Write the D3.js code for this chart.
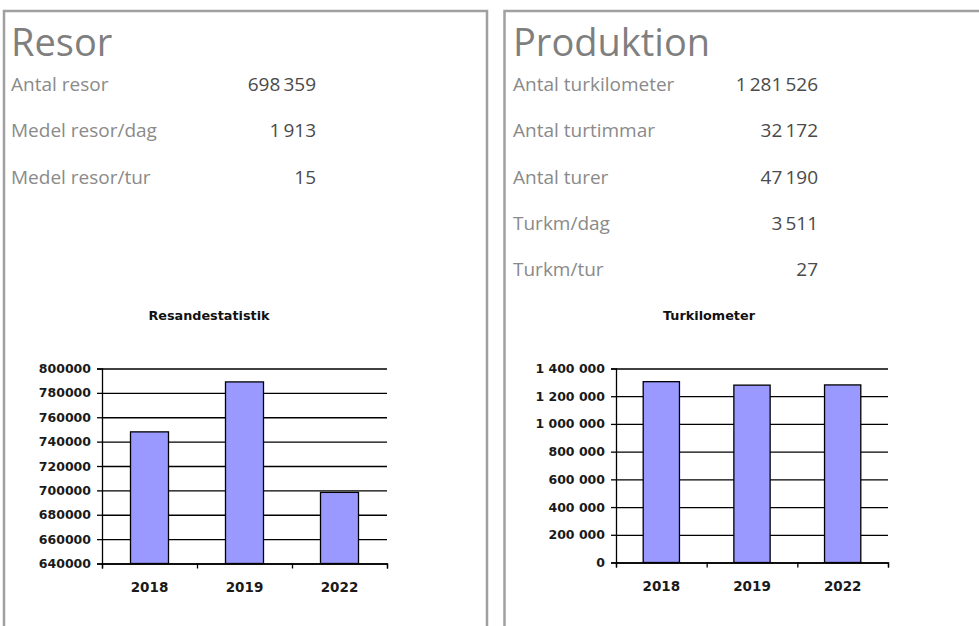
<!DOCTYPE html>
<html>
<head>
<meta charset="utf-8">
<script src="https://cdn.jsdelivr.net/npm/d3@7"></script>
<style>
  body { margin: 0; background: #fff; }
  .panel { fill: none; stroke: #a0a0a0; stroke-width: 2.5; }
  .head { font-family: "Open Sans", sans-serif; font-size: 38px; fill: #7f7f7f; }
  .rowLabel { font-family: "Open Sans", sans-serif; font-size: 19px; fill: #8a8a8a; }
  .rowValue { font-family: "Open Sans", sans-serif; font-size: 19px; fill: #4a4a4a; text-anchor: end; }
  .chartTitle { font-family: "DejaVu Sans", sans-serif; font-size: 12.8px; font-weight: bold; fill: #111; text-anchor: middle; }
  .axis text { font-family: "DejaVu Sans", sans-serif; font-size: 12.5px; font-weight: bold; fill: #1a1a1a; }
  .axis.years text { font-size: 13.5px; }
  .axis path, .axis line { stroke: #000; stroke-width: 1.3; }
  .grid line { stroke: #000; stroke-width: 1.3; }
  .grid path { display: none; }
  .bar { fill: #9999ff; stroke: #000; stroke-width: 1.3; }
</style>
</head>
<body>
<div id="chart"></div>
<script>
// key figures
var resorLabels = ["Antal resor", "Medel resor/dag", "Medel resor/tur"];
var resorValues = [698359, 1913, 15];
var prodLabels = ["Antal turkilometer", "Antal turtimmar", "Antal turer", "Turkm/dag", "Turkm/tur"];
var prodValues = [1281526, 32172, 47190, 3511, 27];

// charts
var years = ["2018", "2019", "2022"];
var resandeValues = [748000, 789000, 698359];
var resandeTicks = [640000, 660000, 680000, 700000, 720000, 740000, 760000, 780000, 800000];
var turkmValues = [1305000, 1280000, 1281526];
var turkmTicks = [0, 200000, 400000, 600000, 800000, 1000000, 1200000, 1400000];

var W = 979, H = 626;
var fmtSpace = d3.formatLocale({decimal: ",", thousands: "\u2009", grouping: [3], currency: ["", " kr"]}).format(",d");
var fmtAxis = d3.formatLocale({decimal: ",", thousands: " ", grouping: [3], currency: ["", ""]}).format(",d");

var svg = d3.select("#chart").append("svg")
    .attr("width", W)
    .attr("height", H);

// panel frames
svg.append("path").attr("class", "panel")
    .attr("d", "M4,632 L4,11 L487,11 L487,632");
svg.append("path").attr("class", "panel")
    .attr("d", "M504.5,632 L504.5,11 L990,11");

// headings
svg.append("text").attr("class", "head").attr("x", 11).attr("y", 56).text("Resor");
svg.append("text").attr("class", "head").attr("x", 513).attr("y", 56).text("Produktion");

function keyRows(labels, values, xl, xr) {
    var g = svg.append("g");
    g.selectAll(".rowLabel")
        .data(labels)
        .enter()
        .append("text")
        .attr("class", "rowLabel")
        .attr("x", xl)
        .attr("y", function(d, i) { return 91 + i * 46.3; })
        .text(function(d) { return d; });
    g.selectAll(".rowValue")
        .data(values)
        .enter()
        .append("text")
        .attr("class", "rowValue")
        .attr("x", xr)
        .attr("y", function(d, i) { return 91 + i * 46.3; })
        .text(function(d) { return fmtSpace(d); });
}
keyRows(resorLabels, resorValues, 11, 316);
keyRows(prodLabels, prodValues, 513, 818);

function barChart(opt) {
    var w = opt.x1 - opt.x0, h = opt.y1 - opt.y0;
    var g = svg.append("g").attr("transform", "translate(" + opt.x0 + "," + opt.y0 + ")");

    svg.append("text").attr("class", "chartTitle")
        .attr("x", opt.titleX).attr("y", 320).text(opt.title);

    var x = d3.scaleBand().domain(years).range([0, w]).paddingInner(0.6).paddingOuter(0.3);
    var xEdge = d3.scaleLinear().domain([0, years.length]).range([0, w]);
    var y = d3.scaleLinear().domain(opt.domain).range([h, 0]);

    // gridlines
    g.append("g").attr("class", "grid")
        .call(d3.axisLeft(y).tickValues(opt.ticks).tickSize(-w).tickFormat(""));

    // bars
    g.selectAll(".bar")
        .data(opt.values)
        .enter()
        .append("rect")
        .attr("class", "bar")
        .attr("x", function(d, i) { return x(years[i]); })
        .attr("width", x.bandwidth())
        .attr("y", function(d) { return y(d); })
        .attr("height", function(d) { return h - y(d); });

    // y axis
    g.append("g").attr("class", "axis")
        .call(d3.axisLeft(y).tickValues(opt.ticks).tickSize(5).tickPadding(6).tickFormat(opt.fmt));

    // x axis: tick marks on band edges, labels under bars
    g.append("g").attr("class", "axis")
        .attr("transform", "translate(0," + h + ")")
        .call(d3.axisBottom(xEdge).tickValues(d3.range(years.length + 1)).tickSize(5).tickSizeOuter(5).tickFormat(""));
    g.append("g").attr("class", "axis years")
        .attr("transform", "translate(0," + h + ")")
        .call(d3.axisBottom(x).tickSize(0).tickPadding(19))
        .select(".domain").remove();
}

barChart({
    title: "Resandestatistik", titleX: 209,
    x0: 102, x1: 387, y0: 368.5, y1: 563.5,
    domain: [640000, 800000], ticks: resandeTicks, values: resandeValues,
    fmt: d3.format("d")
});
barChart({
    title: "Turkilometer", titleX: 709,
    x0: 616, x1: 888, y0: 368.5, y1: 562.5,
    domain: [0, 1400000], ticks: turkmTicks, values: turkmValues,
    fmt: fmtAxis
});
</script>
</body>
</html>
